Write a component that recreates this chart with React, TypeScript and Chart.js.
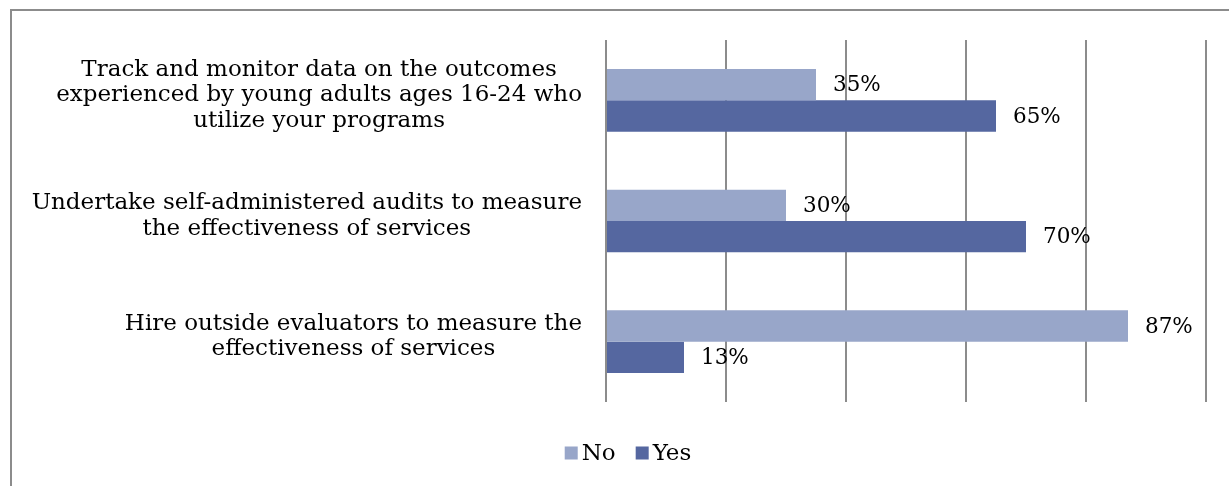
import React, { useEffect, useRef } from "react";
import { Chart, registerables } from "chart.js";

Chart.register(...registerables);

const categories: string[][] = [
  ["Track and monitor data on the outcomes", "experienced by young adults ages 16-24 who", "utilize your programs"],
  ["Undertake self-administered audits to measure", "the effectiveness of services"],
  ["Hire outside evaluators to measure the", "effectiveness of services"],
];
const seriesNames = ["No", "Yes"];
const noValues = [35, 30, 87];
const yesValues = [65, 70, 13];
const xMin = 0;
const xMax = 100;
const xStep = 20;

const NO_COLOR = "#98a6c9";
const YES_COLOR = "#5567a0";
const GRID = "#8c8c8c";
const FONT = "'DejaVu Serif', serif";

const framePlugin = {
  id: "frame",
  beforeDraw(chart: any) {
    const ctx = chart.ctx;
    ctx.save();
    ctx.fillStyle = "#ffffff";
    ctx.fillRect(0, 0, chart.width, chart.height);
    ctx.strokeStyle = GRID;
    ctx.lineWidth = 2;
    ctx.strokeRect(11, 10, chart.width + 100, chart.height + 100);
    ctx.restore();
  },
};

const labelsPlugin = {
  id: "customLabels",
  afterDatasetsDraw(chart: any) {
    const ctx = chart.ctx;
    ctx.save();
    // data labels
    ctx.font = `21.5px ${FONT}`;
    ctx.fillStyle = "#000";
    ctx.textAlign = "left";
    ctx.textBaseline = "middle";
    chart.data.datasets.forEach((ds: any, di: number) => {
      const meta = chart.getDatasetMeta(di);
      meta.data.forEach((el: any, i: number) => {
        ctx.fillText(`${ds.data[i]}%`, el.x + 17, el.y + 1);
      });
    });
    // category labels
    const yScale = chart.scales.y;
    const right = chart.chartArea.left - 24;
    const lh = 25.5;
    ctx.font = `23px ${FONT}`;
    ctx.textAlign = "center";
    categories.forEach((lines, i) => {
      const cy = yScale.getPixelForValue(i) - 5;
      const w = Math.max(...lines.map((l) => ctx.measureText(l).width));
      const cx = right - w / 2;
      const top = cy - ((lines.length - 1) * lh) / 2;
      lines.forEach((l, j) => ctx.fillText(l, cx, top + j * lh));
    });
    // legend
    ctx.font = `23px ${FONT}`;
    ctx.textAlign = "left";
    const colors = [NO_COLOR, YES_COLOR];
    const box = 13;
    const gap = 4;
    const spacing = 20;
    const widths = seriesNames.map((n) => box + gap + ctx.measureText(n).width);
    const total = widths.reduce((a, b) => a + b, 0) + spacing * (seriesNames.length - 1);
    let x = 628 - total / 2;
    const ly = 453;
    seriesNames.forEach((n, i) => {
      ctx.fillStyle = colors[i];
      ctx.fillRect(x, ly - box / 2, box, box);
      ctx.fillStyle = "#000";
      ctx.fillText(n, x + box + gap, ly + 1);
      x += widths[i] + spacing;
    });
    ctx.restore();
  },
};

export default function App() {
  const ref = useRef<HTMLCanvasElement>(null);
  useEffect(() => {
    if (!ref.current) return;
    const chart = new Chart(ref.current, {
      type: "bar",
      data: {
        labels: categories,
        datasets: [
          { label: seriesNames[0], data: noValues, backgroundColor: NO_COLOR },
          { label: seriesNames[1], data: yesValues, backgroundColor: YES_COLOR },
        ],
      },
      options: {
        indexAxis: "y",
        responsive: false,
        animation: false,
        events: [],
        layout: { padding: { left: 606, top: 40, right: 23, bottom: 84 } },
        datasets: { bar: { categoryPercentage: 0.52, barPercentage: 1 } },
        plugins: { legend: { display: false }, tooltip: { enabled: false } },
        scales: {
          x: {
            min: xMin,
            max: xMax,
            ticks: { display: false, stepSize: xStep },
            grid: { color: GRID, lineWidth: 2, drawTicks: false },
            border: { display: false },
          },
          y: {
            display: false,
          },
        },
      },
      plugins: [framePlugin, labelsPlugin],
    });
    return () => chart.destroy();
  }, []);
  return (
    <div style={{ position: "fixed", left: 0, top: 0 }}>
      <canvas ref={ref} width={1229} height={486} style={{ display: "block" }} />
    </div>
  );
}
